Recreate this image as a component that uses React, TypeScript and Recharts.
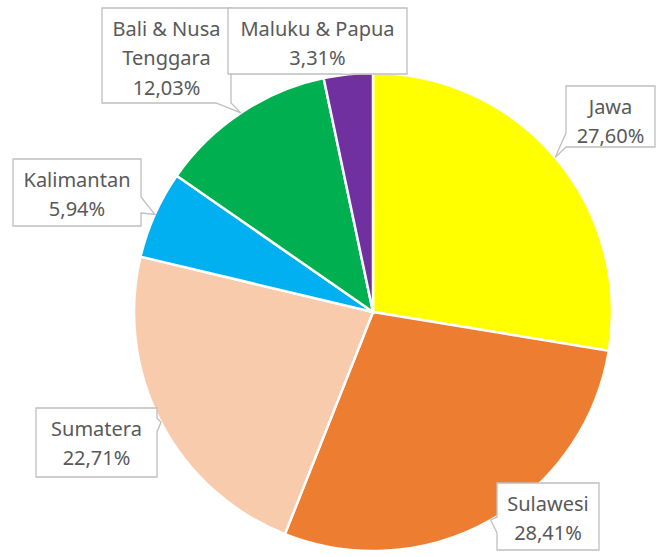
import { Cell, Pie, PieChart } from 'recharts'

const REGIONS = [
  'Jawa',
  'Sulawesi',
  'Sumatera',
  'Kalimantan',
  'Bali & Nusa\nTenggara',
  'Maluku & Papua',
]
const SHARES = [27.6, 28.41, 22.71, 5.94, 12.03, 3.31]
const COLORS = ['#FFFF00', '#ED7D31', '#F8CBAD', '#00B0F0', '#00B050', '#7030A0']

// callout boxes (Excel "best fit" positions), pointer side and where the wedge meets the box
type Side = 'left' | 'right' | 'bottom'
interface Callout {
  x: number
  y: number
  w: number
  h: number
  side: Side
  from: number
  to: number
}
const CALLOUTS: Callout[] = [
  { x: 566, y: 86, w: 89, h: 61, side: 'left', from: 47, to: 61 },
  { x: 497, y: 483, w: 102, h: 67, side: 'left', from: 34, to: 50 },
  { x: 36, y: 408, w: 121, h: 69, side: 'right', from: 10, to: 24 },
  { x: 13, y: 159, w: 128, h: 67, side: 'right', from: 38, to: 54 },
  { x: 102, y: 8, w: 129, h: 95, side: 'bottom', from: 114, to: 129 },
  { x: 228, y: 8, w: 179, h: 66, side: 'bottom', from: 110, to: 125 },
]

const data = REGIONS.map((name, i) => ({ name, value: SHARES[i] }))

const RAD = Math.PI / 180

function calloutPath(c: Callout, tx: number, ty: number) {
  const { x, y, w, h, side, from, to } = c
  const r = x + w
  const b = y + h
  const pts: [number, number][] = [[x, y], [r, y]]
  if (side === 'right') pts.push([r, y + from], [tx, ty], [r, y + to])
  pts.push([r, b])
  if (side === 'bottom') pts.push([x + to, b], [tx, ty], [x + from, b])
  pts.push([x, b])
  if (side === 'left') pts.push([x, y + to], [tx, ty], [x, y + from])
  return 'M' + pts.map((p) => p.join(',')).join('L') + 'Z'
}

function renderLabel(props: any) {
  const { cx, cy, midAngle, outerRadius, index, name, value } = props
  const c = CALLOUTS[index]
  const tx = cx + outerRadius * Math.cos(-midAngle * RAD)
  const ty = cy + outerRadius * Math.sin(-midAngle * RAD)
  const lines = [...String(name).split('\n'), value.toFixed(2).replace('.', ',') + '%']
  const mid = c.x + c.w / 2
  return (
    <g key={`callout-${index}`}>
      <path d={calloutPath(c, tx, ty)} fill="#ffffff" stroke="#BFBFBF" strokeWidth={1.3} />
      {lines.map((line, i) => (
        <text
          key={i}
          x={mid}
          y={c.y + 20 + i * 29.5}
          textAnchor="middle"
          dominantBaseline="central"
          fill="#595959"
          fontSize={20}
          fontFamily="'Noto Sans', sans-serif"
        >
          {line}
        </text>
      ))}
    </g>
  )
}

export default function App() {
  return (
    <div style={{ width: 657, height: 557, background: '#ffffff' }}>
      <style>{'body{margin:0}'}</style>
      <PieChart width={657} height={557} margin={{ top: 0, right: 0, bottom: 0, left: 0 }}>
        <Pie
          data={data}
          dataKey="value"
          nameKey="name"
          cx={373}
          cy={312}
          outerRadius={239}
          startAngle={90}
          endAngle={-270}
          stroke="#ffffff"
          strokeWidth={2.5}
          labelLine={false}
          label={renderLabel}
          isAnimationActive={false}
        >
          {data.map((d, i) => (
            <Cell key={d.name} fill={COLORS[i]} />
          ))}
        </Pie>
      </PieChart>
    </div>
  )
}
